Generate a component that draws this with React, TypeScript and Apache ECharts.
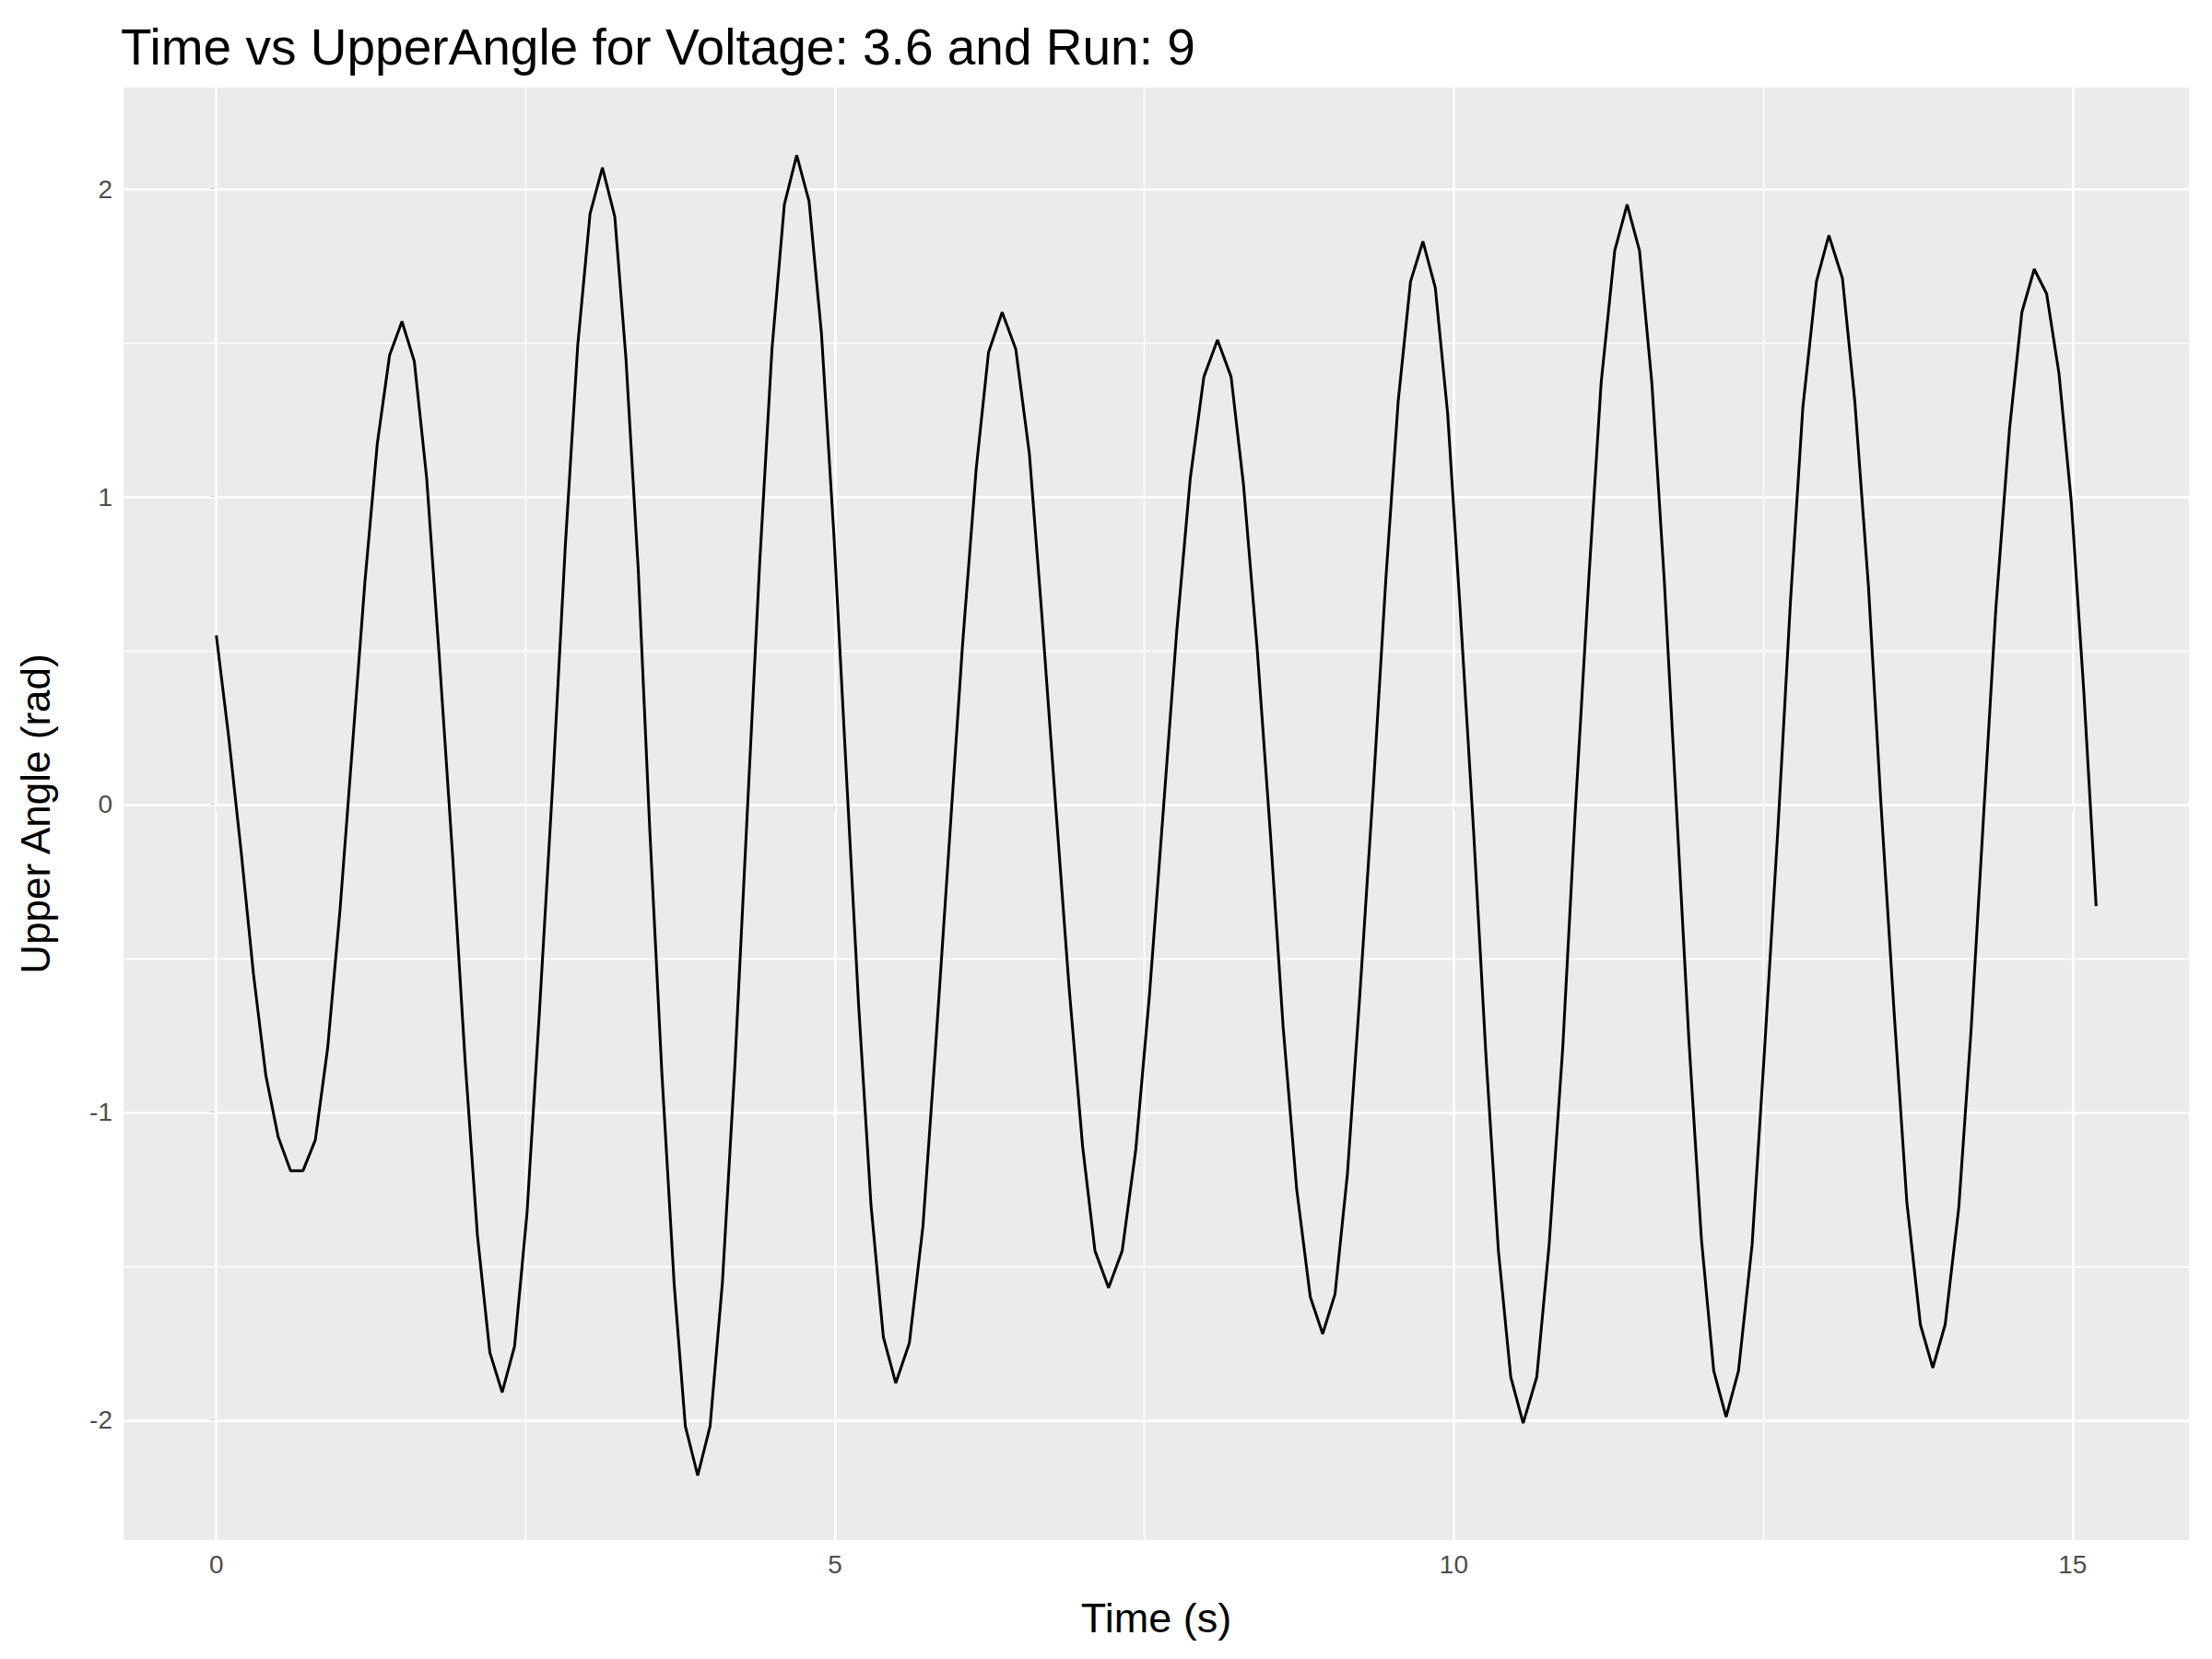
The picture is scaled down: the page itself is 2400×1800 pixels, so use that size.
import { useEffect, useRef } from 'react'
import * as echarts from 'echarts'

// 数据：时间 (s) 与上臂角度 (rad)
const times = [
  0, 0.1, 0.2, 0.3, 0.4, 0.5, 0.6, 0.7,
  0.8, 0.9, 1.0, 1.1, 1.2, 1.3, 1.4, 1.5,
  1.60, 1.70, 1.80, 1.91, 2.01, 2.11, 2.21, 2.31,
  2.41, 2.51, 2.61, 2.72, 2.82, 2.92, 3.02, 3.12,
  3.22, 3.31, 3.41, 3.50, 3.60, 3.70, 3.79, 3.89,
  3.99, 4.09, 4.19, 4.29, 4.39, 4.49, 4.59, 4.69,
  4.79, 4.89, 4.99, 5.09, 5.19, 5.29, 5.39, 5.49,
  5.60, 5.71, 5.81, 5.92, 6.03, 6.14, 6.24, 6.35,
  6.46, 6.57, 6.67, 6.78, 6.89, 7.00, 7.10, 7.21,
  7.32, 7.43, 7.54, 7.65, 7.76, 7.87, 7.98, 8.09,
  8.20, 8.30, 8.41, 8.52, 8.62, 8.73, 8.84, 8.94,
  9.04, 9.14, 9.24, 9.35, 9.45, 9.55, 9.65, 9.75,
  9.85, 9.95, 10.05, 10.16, 10.26, 10.36, 10.46, 10.56,
  10.67, 10.77, 10.88, 10.98, 11.09, 11.19, 11.30, 11.40,
  11.50, 11.60, 11.70, 11.80, 11.90, 12.00, 12.10, 12.20,
  12.30, 12.41, 12.51, 12.62, 12.72, 12.82, 12.93, 13.03,
  13.14, 13.24, 13.35, 13.45, 13.56, 13.66, 13.77, 13.87,
  13.97, 14.08, 14.18, 14.28, 14.38, 14.49, 14.59, 14.69,
  14.79, 14.89, 14.99, 15.09, 15.19
]
const angles = [
  0.55, 0.22, -0.15, -0.55, -0.88, -1.08, -1.19, -1.19,
  -1.09, -0.79, -0.34, 0.19, 0.72, 1.17, 1.46, 1.57,
  1.44, 1.06, 0.49, -0.17, -0.83, -1.40, -1.78, -1.91,
  -1.76, -1.33, -0.68, 0.08, 0.84, 1.49, 1.92, 2.07,
  1.91, 1.45, 0.76, -0.06, -0.87, -1.56, -2.02, -2.18,
  -2.02, -1.55, -0.85, -0.03, 0.78, 1.48, 1.95, 2.11,
  1.96, 1.53, 0.88, 0.11, -0.65, -1.30, -1.73, -1.88,
  -1.75, -1.37, -0.80, -0.14, 0.52, 1.09, 1.47, 1.60,
  1.48, 1.14, 0.62, 0.01, -0.59, -1.11, -1.45, -1.57,
  -1.45, -1.12, -0.62, -0.03, 0.56, 1.06, 1.39, 1.51,
  1.39, 1.04, 0.51, -0.11, -0.72, -1.25, -1.60, -1.72,
  -1.59, -1.20, -0.62, 0.06, 0.73, 1.31, 1.70, 1.83,
  1.68, 1.27, 0.64, -0.09, -0.82, -1.45, -1.86, -2.01,
  -1.86, -1.43, -0.79, -0.03, 0.73, 1.37, 1.80, 1.95,
  1.80, 1.37, 0.73, -0.02, -0.77, -1.41, -1.84, -1.99,
  -1.84, -1.43, -0.80, -0.07, 0.66, 1.29, 1.70, 1.85,
  1.71, 1.31, 0.71, 0.01, -0.69, -1.29, -1.69, -1.83,
  -1.69, -1.31, -0.73, -0.04, 0.64, 1.22, 1.60, 1.74,
  1.66, 1.40, 0.98, 0.37, -0.33
]
// 刻度
const xMajor = [0, 5, 10, 15]
const xMinor = [2.5, 7.5, 12.5]
const yMajor = [-2, -1, 0, 1, 2]
const yMinor = [-1.5, -0.5, 0.5, 1.5]

const App: React.FC = () => {
  const chartRef = useRef<HTMLDivElement>(null)
  useEffect(() => {
    if (!chartRef.current) return
    const chart = echarts.init(chartRef.current, null, { renderer: 'svg' })
    const gridLine = (axis: 'xAxis' | 'yAxis', v: number, w: number) => ({
      [axis]: v,
      lineStyle: { color: '#FFFFFF', width: w, type: 'solid' }
    })
    const labelStyle = { color: '#4D4D4D', fontSize: 28, fontFamily: 'Liberation Sans' }
    chart.setOption({
      animation: false,
      title: {
        text: 'Time vs UpperAngle for Voltage: 3.6 and Run: 9',
        left: 118, top: 10,
        textStyle: { fontSize: 55, fontWeight: 'normal', color: '#000', fontFamily: 'Liberation Sans' }
      },
      grid: {
        left: 122, top: 87, width: 2245, height: 1576,
        show: true, backgroundColor: '#EBEBEB', borderWidth: 0
      },
      xAxis: {
        type: 'value', min: -0.75, max: 15.94,
        name: 'Time (s)', nameLocation: 'middle', nameGap: 62,
        nameTextStyle: { fontSize: 45, color: '#000', fontFamily: 'Liberation Sans' },
        axisLine: { show: false },
        axisTick: { show: true, length: 7, customValues: xMajor, lineStyle: { color: '#333', width: 2 } },
        axisLabel: { ...labelStyle, margin: 12, customValues: xMajor },
        splitLine: { show: false }
      },
      yAxis: {
        type: 'value', min: -2.39, max: 2.33,
        name: 'Upper Angle (rad)', nameLocation: 'middle', nameGap: 74, nameRotate: 90,
        nameTextStyle: { fontSize: 44, color: '#000', fontFamily: 'Liberation Sans' },
        axisLine: { show: false },
        axisTick: { show: true, length: 7, customValues: yMajor, lineStyle: { color: '#333', width: 2 } },
        axisLabel: { ...labelStyle, margin: 12, customValues: yMajor },
        splitLine: { show: false }
      },
      series: [
        {
          type: 'line', data: [], z: 1, silent: true,
          markLine: {
            silent: true, symbol: 'none', label: { show: false },
            data: [
              ...xMinor.map(v => gridLine('xAxis', v, 1.3)),
              ...yMinor.map(v => gridLine('yAxis', v, 1.3)),
              ...xMajor.map(v => gridLine('xAxis', v, 2.6)),
              ...yMajor.map(v => gridLine('yAxis', v, 2.6))
            ]
          }
        },
        {
          type: 'line', z: 5,
          data: times.map((t, i) => [t, angles[i]]),
          showSymbol: false,
          lineStyle: { color: '#000', width: 3 }
        }
      ]
    })
    return () => chart.dispose()
  }, [])
  return <div ref={chartRef} style={{ width: '2384px', height: '1784px' }} />
}

export default App
